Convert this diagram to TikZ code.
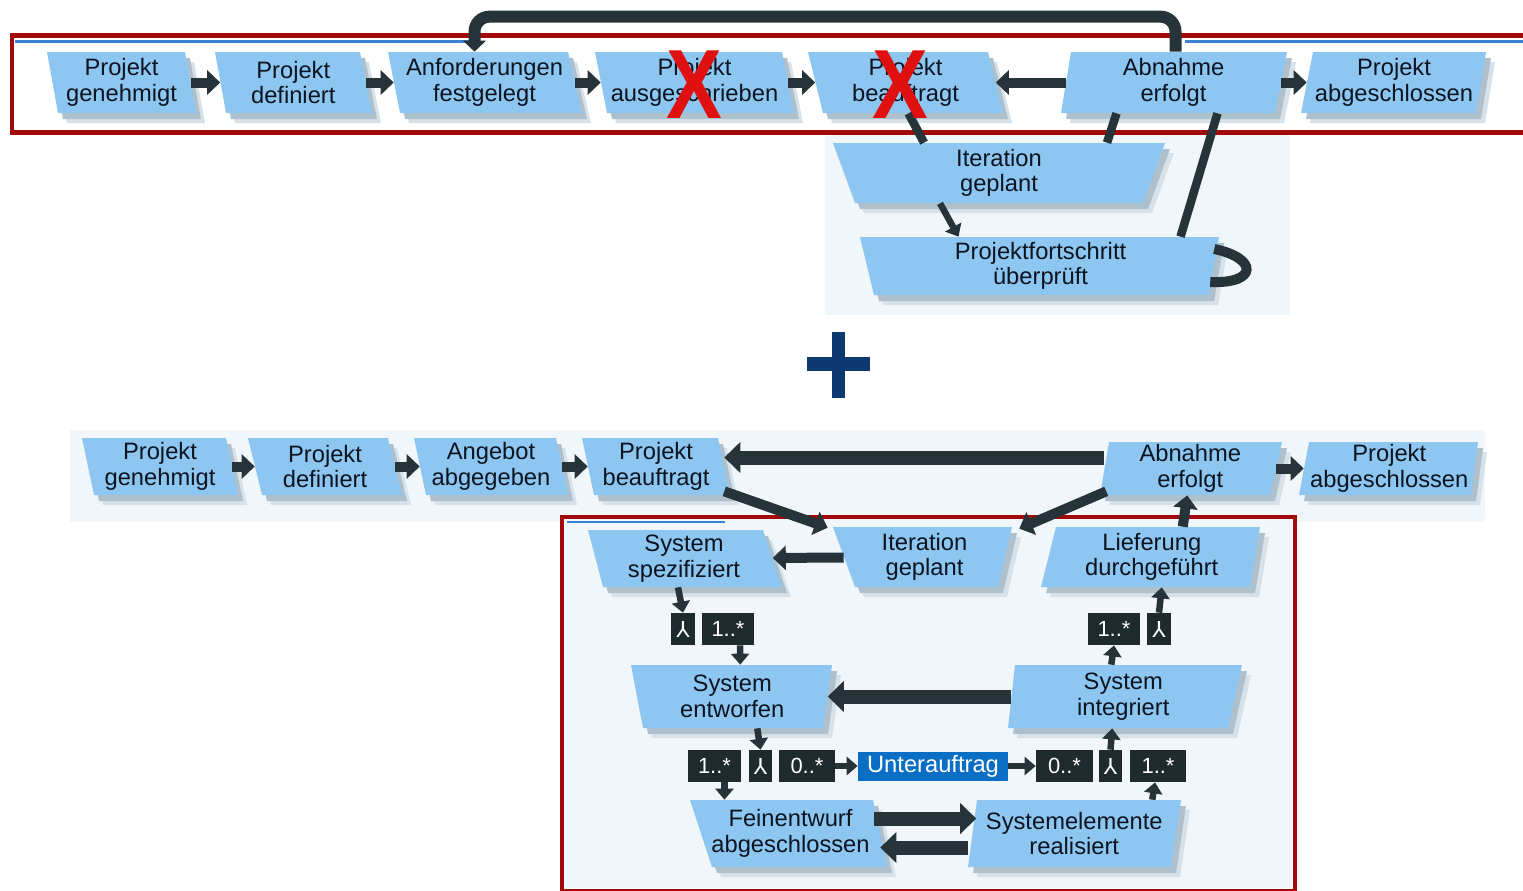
\documentclass[tikz,border=0pt]{standalone}
\usepackage{fontspec}
\setmainfont{Liberation Sans}
\newfontfamily\symf{DejaVu Sans}
\usetikzlibrary{arrows.meta,calc}
\definecolor{boxc}{HTML}{8DC6F0}
\definecolor{shadowA}{HTML}{AFC0CD}
\definecolor{shadowB}{HTML}{D6E1EA}
\definecolor{arrc}{HTML}{26343A}
\definecolor{txtc}{HTML}{0C1420}
\definecolor{redc}{HTML}{A00A0A}
\definecolor{xred}{HTML}{E01010}
\definecolor{navy}{HTML}{0C3A70}
\definecolor{tagc}{HTML}{1E2A2E}
\definecolor{ublue}{HTML}{0A6EC4}
\definecolor{bluel}{HTML}{3C82D2}
\definecolor{bgc}{HTML}{F1F6FA}
\tikzset{
  lbl/.style={inner sep=0pt, align=center, text=txtc, font=\fontsize{13.5}{14.5}\selectfont},
  tagbox/.style={fill=tagc, text=white, inner sep=0pt, font=\fontsize{12.5}{13}\selectfont},
  arr/.style={draw=arrc, line width=0.2cm, -{Triangle[length=0.26cm,width=0.48cm]}},
  arrL/.style={draw=arrc, line width=0.28cm, -{Triangle[length=0.32cm,width=0.6cm]}},
  arrS/.style={draw=arrc, line width=0.13cm, -{Triangle[length=0.22cm,width=0.36cm]}},
  plainline/.style={draw=arrc, line width=0.2cm},
  redframe/.style={draw=redc, line width=0.1cm},
}
% name, x top-left, x top-right, x bottom-left, x bottom-right, y top, y bottom, text
\newcommand\mbx[8]{%
  \fill[shadowB] (#2+9,#6+10) -- (#3+9,#6+10) -- (#5+9,#7+10) -- (#4+9,#7+10) -- cycle;
  \fill[shadowA] (#2+5,#6+6) -- (#3+5,#6+6) -- (#5+5,#7+6) -- (#4+5,#7+6) -- cycle;
  \fill[boxc] (#2,#6) -- (#3,#6) -- (#5,#7) -- (#4,#7) -- cycle;
  \node[lbl, minimum width={((#3+#5)-(#2+#4))*0.01cm}, minimum height={(#7-#6)*0.02cm}]
    (#1) at ({(#2+#3+#4+#5)/4},{(#6+#7)/2}) {#8};
}
% name, x1, x2, y1, y2, text
\newcommand\lab[6]{%
  \node[tagbox, minimum width={(#3-#2)*0.02cm}, minimum height={(#5-#4)*0.02cm}]
    (#1) at ({(#2+#3)/2},{(#4+#5)/2}) {#6};
}
\begin{document}
\begin{tikzpicture}[x=0.02cm,y=-0.02cm]
\useasboundingbox (0,0) rectangle (1523,890);
% light backgrounds
\fill[bgc] (825,135) rectangle (1290,315);
\fill[bgc] (70,430) rectangle (1485,522);
\fill[bgc] (565,520) rectangle (1292,888);
% thin blue frame remnants
\draw[bluel, line width=0.06cm] (15,41) -- (470,41);
\draw[bluel, line width=0.06cm] (1185,41) -- (1523,41);
\draw[bluel, line width=0.05cm] (567,522) -- (725,522);

% ===== top diagram =====
\mbx{t1}{47}{185}{58}{196}{52}{113}{Projekt\\genehmigt}
\mbx{t2}{215}{360}{226}{372}{52}{113}{Projekt\\definiert}
\mbx{t3}{388}{568}{400}{582}{52}{113}{Anforderungen\\festgelegt}
\mbx{t4}{595}{782}{607}{794}{52}{113}{Projekt\\ausgeschrieben}
\mbx{t5}{808}{988}{823}{1003}{52}{113}{Projekt\\beauftragt}
\mbx{t6}{1071}{1287}{1061}{1275}{52}{113}{Abnahme\\erfolgt}
\mbx{t7}{1313}{1486}{1301}{1476}{52}{113}{Projekt\\abgeschlossen}
\mbx{ti}{833}{1165}{855}{1143}{143}{203}{Iteration\\geplant}
\mbx{tp}{860}{1219}{874}{1209}{237}{295}{Projektfortschritt\\überprüft}

\draw[redframe] (1530,35) -- (12,35) -- (12,132) -- (1530,132);

\draw[arr] (t1) -- (t2);
\draw[arr] (t2) -- (t3);
\draw[arr] (t3) -- (t4);
\draw[arr] (t4) -- (t5);
\draw[arr] (t6) -- (t5);
\draw[arr] (t6) -- (t7);
\draw[plainline, line width=0.24cm, rounded corners=0.3cm, -{Triangle[length=0.22cm,width=0.45cm]}]
  ($(t6.north)+(2,0)$) -- ++(0,-35) -| ($(t3.north)+(-10,0)$);
\draw[plainline, line width=0.17cm] ($(t5.south)+(3,0)$) -- ($(ti.north)+(-75,0)$);
\draw[arrS] ($(ti.south)+(-59,0)$) -- ($(tp.north)+(-82,0)$);
\draw[plainline, line width=0.17cm] ($(t6.south)+(-57,0)$) -- ($(ti.north)+(108,0)$);
\draw[plainline, line width=0.17cm] ($(tp.north)+(140,0)$) -- ($(t6.south)+(44,0)$);
\draw[plainline, line width=0.2cm] ($(tp.east)+(0,-17)$) .. controls (1258,258) and (1258,284) .. ($(tp.east)+(-4,16)$);

\node[text=xred, font=\fontsize{56}{56}\selectfont\bfseries, xscale=0.85] (x1) at ($(t4.center)+(0,2)$) {X};
\node[text=xred, font=\fontsize{56}{56}\selectfont\bfseries, xscale=0.85] (x2) at ($(t5.center)+(-5,2)$) {X};

% ===== plus =====
\fill[navy] (807,357) rectangle (870,371);
\fill[navy] (832,332) rectangle (845,398);

% ===== bottom diagram =====
\mbx{b1}{82}{226}{94}{238}{438}{495}{Projekt\\genehmigt}
\mbx{b2}{248}{388}{262}{402}{438}{495}{Projekt\\definiert}
\mbx{b3}{414}{556}{426}{568}{438}{495}{Angebot\\abgegeben}
\mbx{b4}{582}{718}{594}{730}{438}{495}{Projekt\\beauftragt}
\mbx{b5}{1109}{1282}{1100}{1270}{442}{495}{Abnahme\\erfolgt}
\mbx{b6}{1309}{1478}{1299}{1471}{442}{495}{Projekt\\abgeschlossen}

\draw[redframe, line width=0.09cm] (562,517) rectangle (1295,891);

\mbx{ss}{588}{763}{603}{782}{530}{587}{System\\spezifiziert}
\mbx{ig}{833}{1012}{855}{998}{527}{587}{Iteration\\geplant}
\mbx{ld}{1056}{1260}{1041}{1250}{527}{587}{Lieferung\\durchgeführt}
\mbx{se}{631}{832}{643}{823}{665}{728}{System\\entworfen}
\mbx{si}{1015}{1242}{1008}{1228}{665}{728}{System\\integriert}
\mbx{fe}{690}{873}{712}{887}{800}{867}{Feinentwurf\\abgeschlossen}
\mbx{sr}{977}{1181}{968}{1171}{800}{867}{Systemelemente\\realisiert}

\lab{l1}{671}{695}{613}{645}{\symf ⅄}
\lab{l2}{702}{754}{613}{645}{1..*}
\lab{r1}{1088}{1140}{613}{645}{1..*}
\lab{r2}{1147}{1171}{613}{645}{\symf ⅄}
\lab{m1}{688}{741}{750}{782}{1..*}
\lab{m2}{749}{772}{750}{782}{\symf ⅄}
\lab{m3}{779}{835}{750}{782}{0..*}
\node[fill=ublue, text=white, inner sep=0pt, minimum width=3.0cm, minimum height=0.58cm,
  font=\fontsize{13.5}{14}\selectfont] (u) at (933,766) {Unterauftrag};
\lab{m4}{1036}{1093}{750}{782}{0..*}
\lab{m5}{1099}{1122}{750}{782}{\symf ⅄}
\lab{m6}{1130}{1186}{750}{782}{1..*}

\draw[arr] (b1) -- (b2);
\draw[arr] (b2) -- (b3);
\draw[arr] (b3) -- (b4);
\coordinate (ah) at ($(b4.east)+(0,-9)$);
\draw[arrL] (b5.west |- ah) -- (ah);
\draw[arr] (b5) -- (b6);
\draw[arr] ($(b4.south east)+(0,-4)$) -- ($(ig.north west)+(-16,1)$);
\draw[arr] ($(b5.south west)+(2,-4)$) -- ($(ig.north east)+(14,2)$);
\draw[arr] ($(ld.north)+(31,0)$) -- ($(b5.south)+(-3,0)$);
\draw[arr] (ig) -- (ss);
\draw[arrS] ($(ss.south)+(-6,0)$) -- (l1.north);
\draw[arrS] ($(l2.south)+(12,0)$) -- ($(se.north)+(8,0)$);
\draw[arrL] (si) -- (se);
\draw[arrS] ($(se.south)+(25,0)$) -- (m2.north);
\draw[arrS] ($(m1.south)+(10,0)$) -- ($(fe.north)+(-66,0)$);
\draw[arrS] (m3) -- (u);
\draw[arrS] (u) -- (m4);
\draw[arrS] (m5.north) -- ($(si.south)+(-11,0)$);
\draw[arrS] ($(sr.north)+(78,0)$) -- ($(m6.south)+(-3,0)$);
\draw[arrS] ($(si.north)+(-12,0)$) -- (r1.south);
\draw[arrS] (r2.north) -- ($(ld.south)+(10,0)$);
\draw[arrL] ($(fe.east)+(-6,-15)$) -- ($(sr.west)+(4,-15)$);
\draw[arrL] ($(sr.west)+(-4,14)$) -- ($(fe.east)+(0,14)$);
\end{tikzpicture}
\end{document}
